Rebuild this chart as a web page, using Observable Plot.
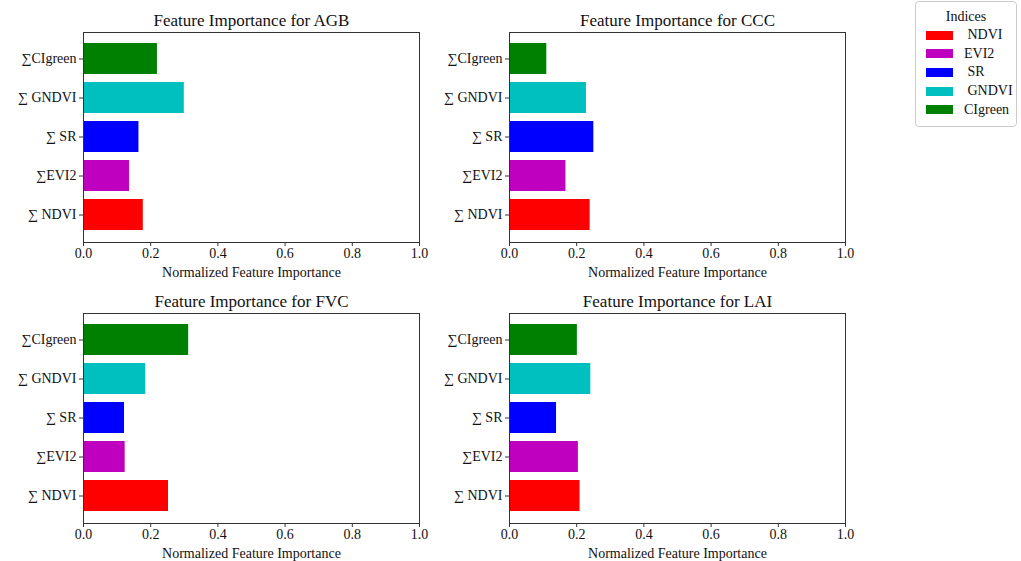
<!DOCTYPE html>
<html>
<head>
<meta charset="utf-8">
<script src="https://cdn.jsdelivr.net/npm/d3@7"></script>
<script src="https://cdn.jsdelivr.net/npm/@observablehq/plot@0.6"></script>
<style>
  html, body { margin: 0; padding: 0; background: #fff; overflow: hidden; }
  #wrap { position: relative; width: 1021px; height: 561px; font-family: "Liberation Serif", "Times New Roman", serif; }
  .panel { position: absolute; }
  .panel svg { overflow: visible; }
  .panel svg text { font-family: "Liberation Serif", "Times New Roman", serif; font-variant: normal; }
  #legend { position: absolute; left: 915px; top: 1px; width: 102px; height: 126px; border: 1px solid #ccc; border-radius: 4px; background: #fff; box-sizing: border-box; color: #111; font-size: 14px; }
  #legend .ttl { text-align: center; margin-top: 6px; height: 18px; line-height: 18px; }
  #legend .row { display: flex; align-items: center; height: 18.6px; }
  #legend .sw { width: 27px; height: 9px; margin-left: 10px; margin-right: 11px; }
  #legend .lb { white-space: pre; }
</style>
</head>
<body>
<div id="wrap"><div id="legend"></div></div>
<script>
// ---- data ----
const indices = ["NDVI", "EVI2", "SR", "GNDVI", "CIgreen"];
const legendLabels = [" NDVI", "EVI2", " SR", " GNDVI", "CIgreen"];
const yLabels = ["∑ NDVI", "∑EVI2", "∑ SR", "∑ GNDVI", "∑CIgreen"];
const colors = ["#ff0000", "#bf00bf", "#0000ff", "#00bfbf", "#008000"];
const targets = ["AGB", "CCC", "FVC", "LAI"];
const agbValues = [0.178, 0.137, 0.165, 0.300, 0.220];
const cccValues = [0.240, 0.168, 0.251, 0.229, 0.111];
const fvcValues = [0.253, 0.124, 0.122, 0.185, 0.313];
const laiValues = [0.210, 0.205, 0.140, 0.242, 0.202];
const xTicks = [0, 0.2, 0.4, 0.6, 0.8, 1.0];

const valuesByTarget = [agbValues, cccValues, fvcValues, laiValues];
const positions = [[0, 0], [426, 0], [0, 281], [426, 281]];

const wrap = document.getElementById("wrap");
const axisColor = "#333";
const serif = "'Liberation Serif', 'Times New Roman', serif";

targets.forEach((t, k) => {
  const vals = valuesByTarget[k];
  const data = indices.map((name, i) => ({ label: yLabels[i], value: vals[i], color: colors[i] }));
  const chart = Plot.plot({
    width: 420,
    height: 280,
    marginLeft: 83,
    marginRight: 1,
    marginTop: 32,
    marginBottom: 38,
    style: { fontFamily: serif, fontSize: "14px", color: "#111", background: "transparent" },
    x: { domain: [0, 1] },
    y: { type: "band", domain: yLabels.slice().reverse(), paddingInner: 0.2, paddingOuter: 0.24, align: 0.5 },
    marks: [
      Plot.barX(data, { x: "value", y: "label", fill: "color" }),
      Plot.frame({ stroke: axisColor, strokeWidth: 1 }),
      Plot.axisX({ ticks: xTicks, tickFormat: d3.format(".1f"), tickSize: 4, tickPadding: 2, stroke: axisColor,
        fontFamily: serif, fontSize: 14,
        label: "Normalized Feature Importance", labelAnchor: "center", labelOffset: 34, labelArrow: "none" }),
      Plot.axisY({ tickSize: 4, tickPadding: 3, stroke: axisColor, label: null, fontFamily: serif, fontSize: 14 }),
      Plot.text([`Feature Importance for ${t}`], { text: d => d, frameAnchor: "top", lineAnchor: "bottom", dy: -7, fontSize: 17, fontFamily: serif, fill: "#111" })
    ]
  });
  const div = document.createElement("div");
  div.className = "panel";
  div.style.left = positions[k][0] + "px";
  div.style.top = positions[k][1] + "px";
  div.appendChild(chart);
  wrap.appendChild(div);
});

// legend
const legend = document.getElementById("legend");
const ttl = document.createElement("div");
ttl.className = "ttl";
ttl.textContent = "Indices";
legend.appendChild(ttl);
indices.forEach((name, i) => {
  const row = document.createElement("div");
  row.className = "row";
  const sw = document.createElement("div");
  sw.className = "sw";
  sw.style.background = colors[i];
  const lb = document.createElement("span");
  lb.className = "lb";
  lb.textContent = legendLabels[i];
  row.appendChild(sw);
  row.appendChild(lb);
  legend.appendChild(row);
});
</script>
</body>
</html>
